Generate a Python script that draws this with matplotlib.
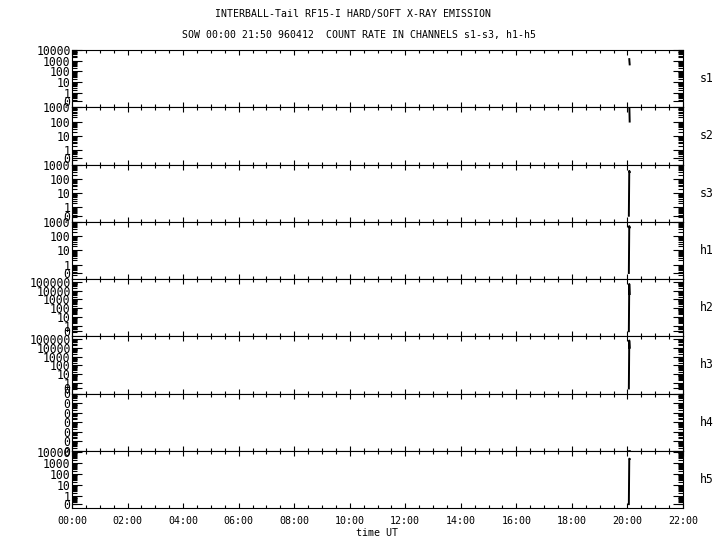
import numpy as np
import matplotlib
matplotlib.use("Agg")
import matplotlib.pyplot as plt
from matplotlib.ticker import MultipleLocator, FuncFormatter

plt.rcParams['font.family'] = ['DejaVu Sans Mono']

# time of the samples (hours UT)
times = [20.05, 20.065, 20.08]

channels = ['s1', 's2', 's3', 'h1', 'h2', 'h3', 'h4', 'h5']
counts = {
    's1': [np.nan, 1400, 450],
    's2': [np.nan, 2000, 100],
    's3': [0, 360, 300],
    'h1': [0, 500, 400],
    'h2': [0, 54000, 4000],
    'h3': [0, 65000, 10000],
    'h4': [0, 0, 0],
    'h5': [0, 2700, 2500],
}

# per panel axis: (ylim bottom, ylim top, position of "0", highest decade)
axis_cfg = {
    's1': (-1.35, 4.0, -0.77, 4),
    's2': (-1.0, 3.0, -0.58, 3),
    's3': (-1.0, 3.0, -0.58, 3),
    'h1': (-1.0, 3.0, -0.58, 3),
    'h2': (-1.17, 5.3, -0.6, 5),
    'h3': (-1.17, 5.3, -0.6, 5),
    'h4': None,
    'h5': (-1.05, 4.15, -0.7, 4),
}


def to_axis(vals, f0):
    out = []
    for v in vals:
        if np.isnan(v):
            out.append(np.nan)
        elif v <= 0:
            out.append(f0)
        else:
            out.append(np.log10(v))
    return out


fig = plt.figure(figsize=(7.2, 5.5), dpi=100)
axes = fig.subplots(len(channels), 1, sharex=True, gridspec_kw=dict(hspace=0))
fig.subplots_adjust(left=72/720, right=683/720, top=1-50/550, bottom=1-508/550)

for ax, ch in zip(axes, channels):
    cfg = axis_cfg[ch]
    if cfg is None:
        ax.plot(times, counts[ch], color='black', lw=1.2)
        ax.set_ylim(0, 6)
        ax.set_yticks(range(7), ['0'] * 7)
        minors = [d + np.log10(m) for d in range(6) for m in range(2, 10)]
        ax.set_yticks(minors, minor=True)
    else:
        lo, hi, f0, top = cfg
        ax.plot(times, to_axis(counts[ch], f0), color='black', lw=1.4)
        ax.set_ylim(lo, hi)
        pos = [f0] + list(range(top + 1))
        labs = ['0'] + [str(10 ** d) for d in range(top + 1)]
        ax.set_yticks(pos, labs)
        minors = [d + np.log10(m) for d in range(-1, top + 1) for m in range(2, 10)]
        minors = [m for m in minors if lo < m < hi]
        ax.set_yticks(minors, minor=True)

    ax.set_xlim(0, 22)
    ax.xaxis.set_major_locator(MultipleLocator(2))
    ax.xaxis.set_minor_locator(MultipleLocator(0.5))
    ax.tick_params(axis='y', which='major', direction='in', length=7.5, width=0.8,
                   left=True, right=True, labelsize=8.3, pad=1)
    ax.tick_params(axis='y', which='minor', direction='in', length=3.8, width=0.8,
                   left=True, right=True)
    ax.tick_params(axis='x', which='major', direction='in', length=3.5, width=0.8,
                   top=True, bottom=True, labelsize=7.2, pad=6)
    ax.tick_params(axis='x', which='minor', direction='in', length=2, width=0.8,
                   top=True, bottom=True)
    for s in ax.spines.values():
        s.set_linewidth(0.8)
    ax.text(1.028, 0.5, ch, transform=ax.transAxes, va='center', ha='left', fontsize=8.3)

axes[-1].xaxis.set_major_formatter(FuncFormatter(lambda v, p: '%02d:00' % int(round(v))))
axes[-1].set_xlabel('time UT', fontsize=7.2, labelpad=1)

fig.text(353/720, 1-14/550, 'INTERBALL-Tail RF15-I HARD/SOFT X-RAY EMISSION',
         ha='center', va='center', fontsize=7.1)
fig.text(359/720, 1-35/550, 'SOW 00:00 21:50 960412  COUNT RATE IN CHANNELS s1-s3, h1-h5',
         ha='center', va='center', fontsize=7.1)

fig.savefig('out.png', dpi=100)
